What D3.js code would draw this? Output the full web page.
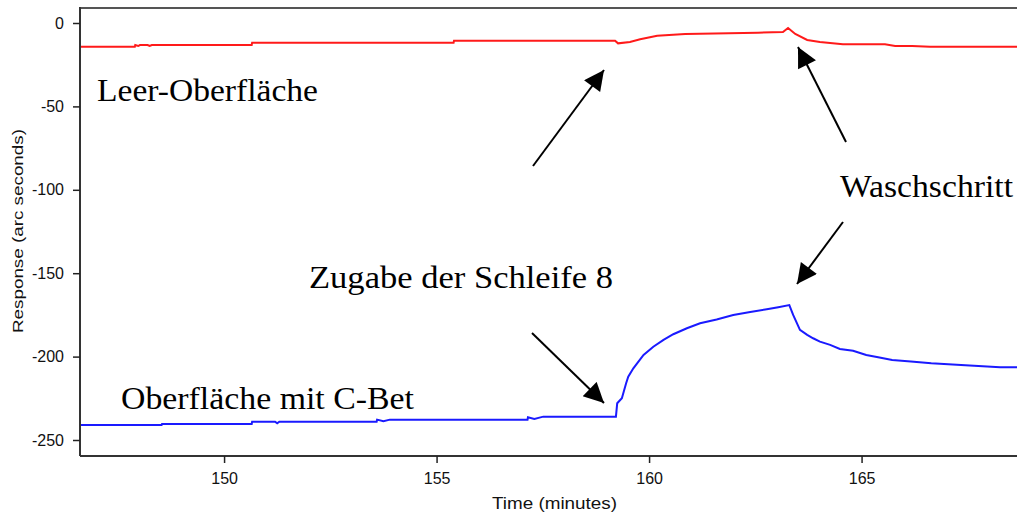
<!DOCTYPE html>
<html>
<head>
<meta charset="utf-8">
<script src="https://cdn.jsdelivr.net/npm/d3@7"></script>
<style>
  body { margin: 0; background: #fff; }
  svg { display: block; }
</style>
</head>
<body>
<div id="chart"></div>
<script>
// data
const yTicks = [0, -50, -100, -150, -200, -250];
const xTicks = [150, 155, 160, 165];

const leerTime = [146.61, 147.90, 147.91, 147.98, 148.02, 148.20, 148.25, 148.30, 150.65, 150.66, 155.40, 155.41, 159.20, 159.27, 159.55, 159.79, 160.19, 160.85, 162.56, 163.15, 163.27, 163.44, 163.72, 164.02, 164.56, 165.55, 165.79, 166.19, 166.61, 168.70];
const leerValue = [-14.2, -14.2, -13.2, -13.8, -13.2, -13.2, -13.8, -13.2, -13.2, -11.8, -11.8, -10.6, -10.6, -12.2, -11.4, -9.8, -7.6, -6.6, -5.8, -5.4, -3.0, -6.6, -10.2, -11.4, -12.8, -12.8, -13.8, -13.8, -14.2, -14.2];

const cbetTime = [146.61, 148.53, 148.54, 150.65, 150.66, 151.20, 151.25, 151.30, 153.59, 153.60, 153.75, 153.90, 157.14, 157.15, 157.30, 157.51, 159.22, 159.25, 159.36, 159.46, 159.51, 159.63, 159.75, 159.87, 160.10, 160.34, 160.57, 160.89, 161.20, 161.59, 161.98, 162.38, 162.77, 163.04, 163.30, 163.39, 163.55, 163.72, 163.86, 164.02, 164.26, 164.49, 164.80, 165.11, 165.39, 165.72, 166.16, 166.64, 167.34, 168.26, 168.70];
const cbetValue = [-241.0, -241.0, -240.4, -240.4, -239.0, -239.0, -240.0, -239.0, -239.0, -237.8, -238.8, -237.8, -237.8, -236.4, -237.4, -236.0, -236.0, -228.0, -225.0, -216.0, -212.0, -207.0, -203.0, -199.0, -194.1, -190.0, -186.6, -183.0, -180.0, -177.7, -175.1, -173.3, -171.6, -170.4, -169.1, -175.0, -184.0, -187.0, -189.0, -191.0, -193.0, -195.4, -196.5, -199.0, -200.4, -202.0, -203.0, -204.0, -205.0, -206.4, -206.4];

const labels = [
  { text: 'Leer-Oberfläche', x: 97, y: 101, w: 221 },
  { text: 'Oberfläche mit C-Bet', x: 121, y: 409, w: 293 },
  { text: 'Zugabe der Schleife 8', x: 309, y: 288, w: 304 },
  { text: 'Waschschritt', x: 840, y: 197, w: 173 }
];
const arrows = [
  [533, 166, 604, 70],
  [846, 142, 798, 47],
  [532, 333, 604, 403],
  [843, 222, 797, 284]
];

const width = 1017, height = 513;
const margin = { left: 80, top: 8, bottom: 57 };

const svg = d3.select('#chart').append('svg')
  .attr('width', width)
  .attr('height', height);

// 150 -> 224 px, 42.5 px per minute
const x = d3.scaleLinear()
  .domain([146.61, 146.61 + (width - margin.left + 20) / 42.5])
  .range([margin.left, width + 20]);

const y = d3.scaleLinear()
  .domain([-250, 0])
  .range([440, 23]);

const plotBottom = height - margin.bottom;

// frame
svg.append('line')
  .attr('x1', margin.left).attr('x2', width + 5)
  .attr('y1', margin.top).attr('y2', margin.top)
  .attr('stroke', '#555').attr('stroke-width', 2);

const xAxis = svg.append('g')
  .attr('transform', 'translate(0,' + plotBottom + ')')
  .call(d3.axisBottom(x).tickValues(xTicks).tickSize(7).tickSizeOuter(0).tickFormat(d3.format('d')));
const yAxis = svg.append('g')
  .attr('transform', 'translate(' + margin.left + ',0)')
  .call(d3.axisLeft(y).tickValues(yTicks).tickSize(7).tickSizeOuter(0).tickFormat(d => d));

yAxis.select('.domain').attr('d', 'M0,' + (margin.top - 1) + 'V' + plotBottom);
xAxis.select('.domain').attr('d', 'M' + margin.left + ',0H' + (width + 20));

[xAxis, yAxis].forEach(g => {
  g.select('.domain').attr('stroke', '#333').attr('stroke-width', 2);
  g.selectAll('.tick line').attr('stroke', '#222').attr('stroke-width', 1.5);
  g.selectAll('.tick text')
    .attr('fill', '#111')
    .style('font-family', '"Liberation Sans", Arial, sans-serif')
    .style('font-size', '16px');
});
xAxis.selectAll('.tick text').attr('y', 17).attr('dy', '0.71em');
yAxis.selectAll('.tick text').attr('x', -16);

svg.append('text')
  .attr('x', 492).attr('y', 509)
  .attr('textLength', 125)
  .attr('lengthAdjust', 'spacingAndGlyphs')
  .style('font-family', '"Liberation Sans", Arial, sans-serif')
  .style('font-size', '16px')
  .attr('fill', '#111')
  .text('Time (minutes)');

svg.append('text')
  .attr('transform', 'translate(23,333) rotate(-90)')
  .attr('textLength', 204)
  .attr('lengthAdjust', 'spacingAndGlyphs')
  .style('font-family', '"Liberation Sans", Arial, sans-serif')
  .style('font-size', '14px')
  .attr('fill', '#111')
  .text('Response (arc seconds)');

// curves
const line = d3.line()
  .x(d => x(d[0]))
  .y(d => y(d[1]));

svg.append('clipPath').attr('id', 'plot')
  .append('rect')
  .attr('x', margin.left + 1).attr('y', margin.top + 1)
  .attr('width', width).attr('height', plotBottom - margin.top - 2);

const plot = svg.append('g').attr('clip-path', 'url(#plot)');

plot.append('path')
  .datum(d3.zip(leerTime, leerValue))
  .attr('d', line)
  .attr('fill', 'none')
  .attr('stroke', '#ff1a1a')
  .attr('stroke-width', 2);

plot.append('path')
  .datum(d3.zip(cbetTime, cbetValue))
  .attr('d', line)
  .attr('fill', 'none')
  .attr('stroke', '#1a1aff')
  .attr('stroke-width', 2);

// annotations
svg.append('defs').append('marker')
  .attr('id', 'head')
  .attr('viewBox', '0 0 10 10')
  .attr('refX', 10).attr('refY', 5)
  .attr('markerWidth', 22).attr('markerHeight', 20)
  .attr('markerUnits', 'userSpaceOnUse')
  .attr('orient', 'auto')
  .append('path')
  .attr('d', 'M0,0L10,5L0,10Z')
  .attr('fill', '#000');

svg.selectAll('.arrow')
  .data(arrows)
  .enter()
  .append('line')
  .attr('class', 'arrow')
  .attr('x1', d => d[0]).attr('y1', d => d[1])
  .attr('x2', d => d[2]).attr('y2', d => d[3])
  .attr('stroke', '#000')
  .attr('stroke-width', 2)
  .attr('marker-end', 'url(#head)');

svg.selectAll('.note')
  .data(labels)
  .enter()
  .append('text')
  .attr('class', 'note')
  .attr('x', d => d.x).attr('y', d => d.y)
  .attr('textLength', d => d.w)
  .attr('lengthAdjust', 'spacingAndGlyphs')
  .style('font-family', '"Liberation Serif", "DejaVu Serif", serif')
  .style('font-size', '32px')
  .attr('fill', '#000')
  .text(d => d.text);
</script>
</body>
</html>
